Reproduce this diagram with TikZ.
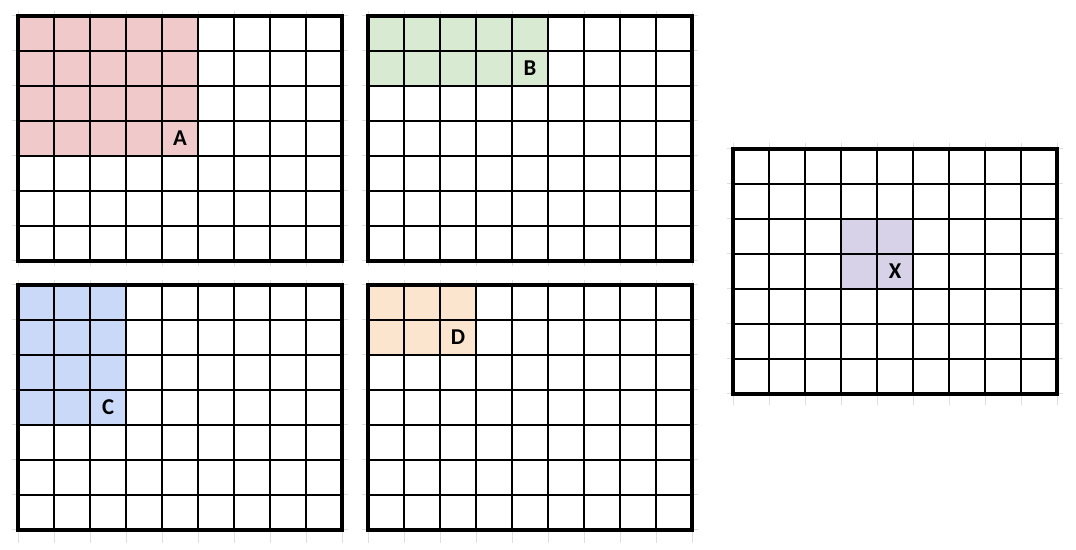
\documentclass[tikz,border=0pt]{standalone}
\usepackage{fontspec}
\setmainfont{Carlito}
\definecolor{cellred}{HTML}{F0CACB}
\definecolor{cellgreen}{HTML}{D9EAD3}
\definecolor{cellblue}{HTML}{C9D9F7}
\definecolor{cellorange}{HTML}{FBE5CF}
\definecolor{cellpurple}{HTML}{D8D2E8}
\tikzset{
  stub/.style={draw=black!13, line width=0.75pt, xstep=36, ystep=35},
  cellline/.style={line width=0.9pt, xstep=36, ystep=35},
  frame/.style={line width=2.6pt},
  cellname/.style={font=\bfseries\fontsize{17}{19}\selectfont, inner sep=0pt}
}
\begin{document}
\begin{tikzpicture}[x=0.75pt,y=0.75pt]
  \useasboundingbox (0,0) rectangle (1076,550);
  % sheet A
  \begin{scope}[shift={(18,289)}]
    \draw [stub] (-6,-5) grid (330,250);
    \fill [white] (0,0) rectangle (324,245);
    \fill [cellred] (0,105) rectangle (180,245);
    \draw [cellline] (0,0) grid (324,245);
    \draw [frame] (0,0) rectangle (324,245);
    \node [cellname] (labA) at (162,122.5) {A};
  \end{scope}
  % sheet B
  \begin{scope}[shift={(368,289)}]
    \draw [stub] (-6,-5) grid (330,250);
    \fill [white] (0,0) rectangle (324,245);
    \fill [cellgreen] (0,175) rectangle (180,245);
    \draw [cellline] (0,0) grid (324,245);
    \draw [frame] (0,0) rectangle (324,245);
    \node [cellname] (labB) at (162,192.5) {B};
  \end{scope}
  % sheet C
  \begin{scope}[shift={(18,20)}]
    \draw [stub] (-6,-13) grid (330,250);
    \fill [white] (0,0) rectangle (324,245);
    \fill [cellblue] (0,105) rectangle (108,245);
    \draw [cellline] (0,0) grid (324,245);
    \draw [frame] (0,0) rectangle (324,245);
    \node [cellname] (labC) at (90,122.5) {C};
  \end{scope}
  % sheet D
  \begin{scope}[shift={(368,20)}]
    \draw [stub] (-6,-13) grid (330,250);
    \fill [white] (0,0) rectangle (324,245);
    \fill [cellorange] (0,175) rectangle (108,245);
    \draw [cellline] (0,0) grid (324,245);
    \draw [frame] (0,0) rectangle (324,245);
    \node [cellname] (labD) at (90,192.5) {D};
  \end{scope}
  % sheet X
  \begin{scope}[shift={(733,156)}]
    \draw [stub] (-6,-11) grid (330,251);
    \fill [white] (0,0) rectangle (324,245);
    \fill [cellpurple] (108,105) rectangle (180,175);
    \draw [cellline] (0,0) grid (324,245);
    \draw [frame] (0,0) rectangle (324,245);
    \node [cellname] (labX) at (162,122.5) {X};
  \end{scope}
\end{tikzpicture}
\end{document}
